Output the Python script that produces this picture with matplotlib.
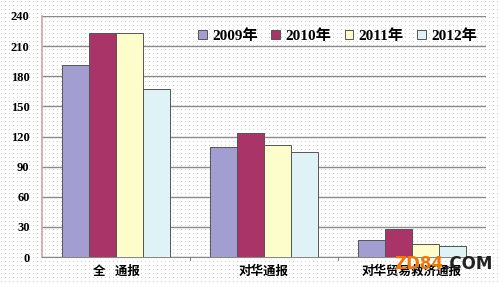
import numpy as np
import matplotlib
matplotlib.use("Agg")
import matplotlib.pyplot as plt

categories = ["全   通报", "对华通报", "对华贸易救济通报"]
series_names = ["2009年", "2010年", "2011年", "2012年"]
v2009 = [191, 110, 17]
v2010 = [223, 123, 28]
v2011 = [223, 112, 13]
v2012 = [167, 105, 11]
yticks = [0, 30, 60, 90, 120, 150, 180, 210, 240]

colors = ["#a29ed2", "#a83468", "#fdfdcc", "#dff3f6"]

plt.rcParams['font.family'] = ['Liberation Serif', 'Noto Sans CJK SC', 'DejaVu Sans']

W, H = 500, 284
fig = plt.figure(figsize=(W/100, H/100), dpi=100)
# dotted background
bg = np.ones((H, W, 3))
bg[1::4, 1::4] = 0.80
fig.figimage(bg, 0, 0, zorder=0)

ax = fig.add_axes([42/W, 1-257/H, (486-42)/W, (257-16)/H], zorder=2)
ax.patch.set_alpha(0)

x = np.arange(len(categories))
w = 0.183
for i, (vals, c) in enumerate(zip([v2009, v2010, v2011, v2012], colors)):
    ax.bar(x + (i - 1.5) * w, vals, w, color=c, edgecolor="#555555", linewidth=0.7,
           label=series_names[i], zorder=3)

ax.set_xlim(-0.5, 2.5)
ax.set_ylim(0, 240)
ax.set_yticks(yticks)
ax.set_yticklabels([str(t) for t in yticks], fontsize=9, fontweight='bold')
ax.tick_params(axis='y', length=0, pad=9)
ax.grid(axis='y', color='#8a8a8a', linewidth=1.0, zorder=1)
ax.set_xticks(x)
ax.set_xticklabels(categories, fontsize=9, fontweight='bold')
ax.tick_params(axis='x', length=0, pad=6)
# category boundary ticks
for b in [0.5, 1.5]:
    ax.plot([b, b], [0, -3], color='#888888', linewidth=0.8, clip_on=False, zorder=2)

for s in ['top', 'right']:
    ax.spines[s].set_visible(False)
ax.spines['left'].set_color('#d8a0a8')
ax.spines['left'].set_linestyle((0, (1, 1)))
ax.spines['left'].set_linewidth(1.2)
ax.spines['bottom'].set_color('#888888')

leg = ax.legend(loc='center', bbox_to_anchor=(0.666, 0.917), ncol=4, frameon=False,
                handlelength=0.55, handleheight=0.55, handletextpad=0.35,
                columnspacing=0.9, prop={'size': 11, 'weight': 'bold'})

fig.text(443/W, 1-264/H, "ZD84", color="#f07800", fontsize=12, fontweight='bold',
         family='DejaVu Sans', ha='right', va='center', zorder=10)
fig.text(443/W, 1-264/H, ".COM", color="#222222", fontsize=12, fontweight='bold',
         family='DejaVu Sans', ha='left', va='center', zorder=10)

fig.savefig("out.png", dpi=100)
